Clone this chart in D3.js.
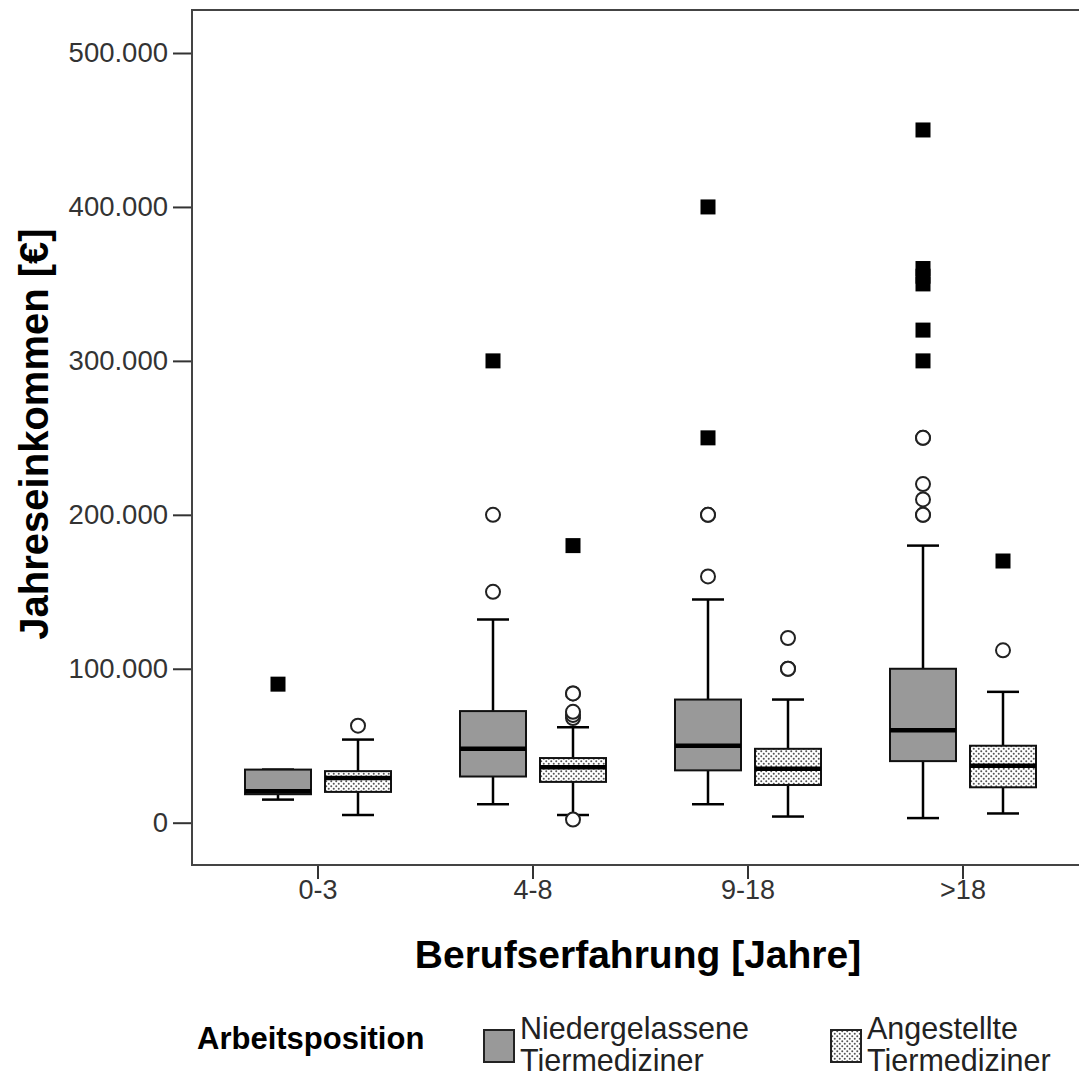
<!DOCTYPE html>
<html>
<head>
<meta charset="utf-8">
<script src="https://cdn.jsdelivr.net/npm/d3@7"></script>
<style>
  body { margin: 0; background: #fff; }
  svg { display: block; font-family: "Liberation Sans", Arial, sans-serif; }
</style>
</head>
<body>
<svg id="chart" width="1079" height="1079"></svg>
<script>
// categories / groups
var categories = ["0-3", "4-8", "9-18", ">18"];
var groups = ["Niedergelassene Tiermediziner", "Angestellte Tiermediziner"];
var yTicks = [0, 100000, 200000, 300000, 400000, 500000];

// Niedergelassene Tiermediziner
var niedWhiskerLow = [15000, 12000, 12000, 3000];
var niedQ1 = [18500, 30000, 34000, 40000];
var niedMedian = [20500, 48000, 50000, 60000];
var niedQ3 = [34500, 72500, 80000, 100000];
var niedWhiskerHigh = [34500, 132000, 145000, 180000];
var niedOutliers = [[], [150000, 200000], [160000, 200000, 200000], [200000, 200000, 210000, 220000, 250000, 250000]];
var niedExtremes = [[90000], [300000], [250000, 400000], [300000, 320000, 350000, 355000, 360000, 450000]];

// Angestellte Tiermediziner
var angWhiskerLow = [5000, 5000, 4000, 6000];
var angQ1 = [20000, 26500, 24500, 23000];
var angMedian = [29000, 36000, 35000, 37000];
var angQ3 = [33500, 42000, 48000, 50000];
var angWhiskerHigh = [54000, 62000, 80000, 85000];
var angOutliers = [[63000], [2000, 68000, 70000, 72000, 84000, 84000], [100000, 100000, 120000], [112000]];
var angExtremes = [[], [180000], [], [170000]];

var svg = d3.select("#chart");
var frame = {left: 192, top: 10, right: 1090, bottom: 865};

// fine dotted fill for the Angestellte boxes
var defs = svg.append("defs");
var pat = defs.append("pattern")
    .attr("id", "dots")
    .attr("width", 5).attr("height", 5)
    .attr("patternUnits", "userSpaceOnUse");
pat.append("rect").attr("width", 5).attr("height", 5).attr("fill", "#fff");
pat.append("circle").attr("cx", 1.25).attr("cy", 1.25).attr("r", 1).attr("fill", "#555");
pat.append("circle").attr("cx", 3.75).attr("cy", 3.75).attr("r", 1).attr("fill", "#555");

var y = d3.scaleLinear().domain([0, 500000]).range([822.7, 53]);
var x = d3.scaleBand().domain(categories).range([210.5, 1070.5]);
var xg = d3.scaleBand().domain(groups).range([-80, 80]);

var boxW = 66, capW = 32;

var fmt = function(d) { return d3.format(",")(d).replace(/,/g, "."); };

// y axis
var yAxis = svg.append("g")
    .attr("transform", "translate(" + frame.left + ",0)")
    .call(d3.axisLeft(y).tickValues(yTicks).tickSize(19).tickPadding(5).tickFormat(fmt));
yAxis.select(".domain").remove();
yAxis.selectAll(".tick line").attr("stroke", "#333").attr("stroke-width", 2);
yAxis.selectAll(".tick text").attr("font-size", 27.5).attr("fill", "#333")
    .attr("font-family", "Liberation Sans, Arial, sans-serif");

// x axis
var xAxis = svg.append("g")
    .attr("transform", "translate(0," + frame.bottom + ")")
    .call(d3.axisBottom(x).tickSize(14).tickPadding(1));
xAxis.select(".domain").remove();
xAxis.selectAll(".tick line").attr("stroke", "#333").attr("stroke-width", 2);
xAxis.selectAll(".tick text").attr("font-size", 27).attr("fill", "#333")
    .attr("font-family", "Liberation Sans, Arial, sans-serif");

// frame
svg.append("rect")
    .attr("x", frame.left).attr("y", frame.top)
    .attr("width", frame.right - frame.left).attr("height", frame.bottom - frame.top)
    .attr("fill", "none").attr("stroke", "#444").attr("stroke-width", 2);

// build box records from the arrays
var boxes = [];
categories.forEach(function(c, i) {
    boxes.push({cat: c, grp: groups[0], lo: niedWhiskerLow[i], q1: niedQ1[i], med: niedMedian[i],
        q3: niedQ3[i], hi: niedWhiskerHigh[i], out: niedOutliers[i], ext: niedExtremes[i]});
    boxes.push({cat: c, grp: groups[1], lo: angWhiskerLow[i], q1: angQ1[i], med: angMedian[i],
        q3: angQ3[i], hi: angWhiskerHigh[i], out: angOutliers[i], ext: angExtremes[i]});
});
var cx = function(d) { return x(d.cat) + x.bandwidth() / 2 + xg(d.grp) + xg.bandwidth() / 2; };
var fillOf = function(d) { return d.grp === groups[0] ? "#999" : "url(#dots)"; };

var bg = svg.append("g").selectAll("g").data(boxes).enter().append("g");

// whiskers
bg.append("line")
    .attr("x1", cx).attr("x2", cx)
    .attr("y1", function(d) { return y(d.lo); }).attr("y2", function(d) { return y(d.hi); })
    .attr("stroke", "#000").attr("stroke-width", 2.5);
bg.append("line")
    .attr("x1", function(d) { return cx(d) - capW / 2; }).attr("x2", function(d) { return cx(d) + capW / 2; })
    .attr("y1", function(d) { return y(d.lo); }).attr("y2", function(d) { return y(d.lo); })
    .attr("stroke", "#000").attr("stroke-width", 2.5);
bg.append("line")
    .attr("x1", function(d) { return cx(d) - capW / 2; }).attr("x2", function(d) { return cx(d) + capW / 2; })
    .attr("y1", function(d) { return y(d.hi); }).attr("y2", function(d) { return y(d.hi); })
    .attr("stroke", "#000").attr("stroke-width", 2.5);

// boxes
bg.append("rect")
    .attr("x", function(d) { return cx(d) - boxW / 2; })
    .attr("width", boxW)
    .attr("y", function(d) { return y(d.q3); })
    .attr("height", function(d) { return y(d.q1) - y(d.q3); })
    .attr("fill", fillOf)
    .attr("stroke", "#111").attr("stroke-width", 2);

// medians
bg.append("line")
    .attr("x1", function(d) { return cx(d) - boxW / 2; }).attr("x2", function(d) { return cx(d) + boxW / 2; })
    .attr("y1", function(d) { return y(d.med); }).attr("y2", function(d) { return y(d.med); })
    .attr("stroke", "#000").attr("stroke-width", 4.5);

// outliers (circles)
bg.selectAll("circle.out")
    .data(function(d) { return d.out.map(function(v) { return {x: cx(d), v: v}; }); })
    .enter().append("circle")
    .attr("class", "out")
    .attr("cx", function(p) { return p.x; })
    .attr("cy", function(p) { return y(p.v); })
    .attr("r", 7)
    .attr("fill", "#fff").attr("stroke", "#222").attr("stroke-width", 2);

// extremes (squares)
var sq = 15;
bg.selectAll("rect.ext")
    .data(function(d) { return d.ext.map(function(v) { return {x: cx(d), v: v}; }); })
    .enter().append("rect")
    .attr("class", "ext")
    .attr("x", function(p) { return p.x - sq / 2; })
    .attr("y", function(p) { return y(p.v) - sq / 2; })
    .attr("width", sq).attr("height", sq)
    .attr("fill", "#000");

// axis titles
svg.append("text")
    .attr("x", 638).attr("y", 968)
    .attr("text-anchor", "middle")
    .attr("font-size", 39).attr("font-weight", "bold")
    .text("Berufserfahrung [Jahre]");

svg.append("text")
    .attr("transform", "translate(48,434) rotate(-90)")
    .attr("text-anchor", "middle")
    .attr("font-size", 40).attr("font-weight", "bold")
    .text("Jahreseinkommen [€]");

// legend
var legend = svg.append("g");
legend.append("text")
    .attr("x", 197).attr("y", 1049)
    .attr("font-size", 31).attr("font-weight", "bold")
    .text("Arbeitsposition");

var legX = [484, 831];
groups.forEach(function(gname, i) {
    var lg = legend.append("g").attr("transform", "translate(" + legX[i] + ",1030)");
    lg.append("rect").attr("width", 30).attr("height", 32)
        .attr("fill", i === 0 ? "#999" : "url(#dots)")
        .attr("stroke", "#222").attr("stroke-width", 2);
    var words = gname.split(" ");
    lg.append("text").attr("x", 36).attr("y", 9).attr("font-size", 30.5).attr("fill", "#222").text(words[0]);
    lg.append("text").attr("x", 36).attr("y", 41).attr("font-size", 30.5).attr("fill", "#222").text(words[1]);
});
</script>
</body>
</html>
